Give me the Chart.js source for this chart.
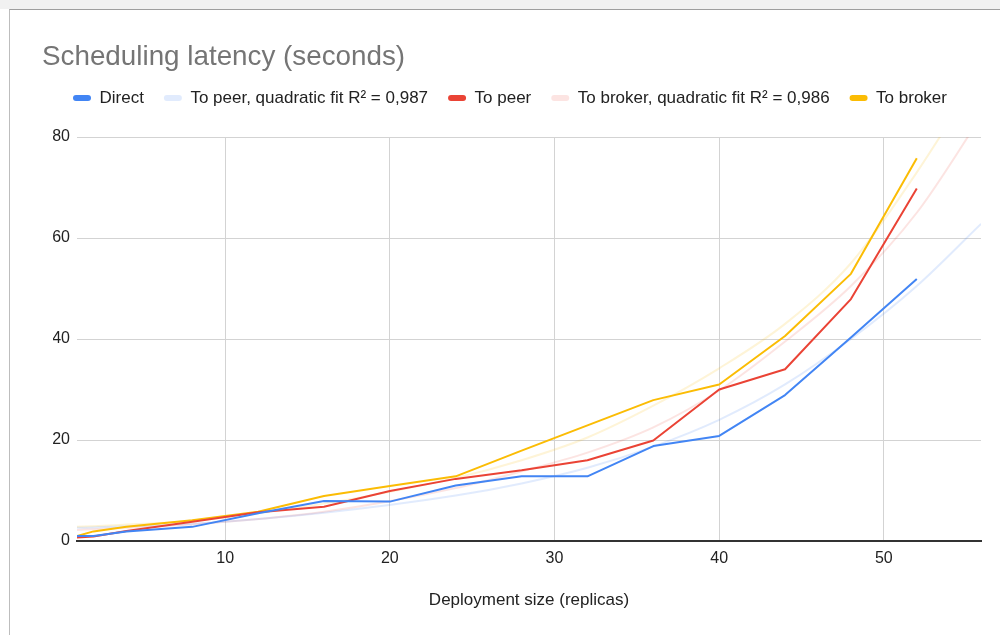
<!DOCTYPE html>
<html>
<head>
<meta charset="utf-8">
<script src="https://cdn.jsdelivr.net/npm/chart.js@4.4.1/dist/chart.umd.min.js"></script>
<style>
  html, body { margin: 0; padding: 0; background: #fff; }
  body { width: 1000px; height: 635px; position: relative; overflow: hidden; font-family: "Liberation Sans", Arial, sans-serif; }
  #strip { position: absolute; left: 0; top: 0; width: 1000px; height: 9px; background: #f1f1f1; }
  #frame { position: absolute; left: 9px; top: 9px; width: 991px; height: 626px; box-sizing: border-box;
           border-top: 1px solid #9e9e9e; border-left: 1px solid #bdbdbd; }
  #chart { position: absolute; left: 10px; top: 11px; }
  #title { position: absolute; left: 42px; top: 40px; line-height: 32px; font-size: 27.8px; color: #757575; }
</style>
</head>
<body>
<div id="strip"></div>
<div id="frame"></div>
<canvas id="chart" width="990" height="624"></canvas>
<div id="title">Scheduling latency (seconds)</div>
<script>
// Données
const replicas = [1, 2, 4, 8, 12, 16, 20, 24, 28, 32, 36, 40, 44, 48, 52];
const direct   = [1, 1, 1.9, 2.8, 5.5, 7.9, 7.8, 11, 12.8, 12.8, 18.8, 20.8, 28.9, 40.3, 51.9];
const toPeer   = [0.7, 0.9, 2, 3.8, 5.7, 6.8, 9.9, 12.3, 14, 16, 19.9, 30, 34, 47.9, 69.8];
const toBroker = [1, 1.9, 2.8, 4.1, 5.8, 8.9, 10.9, 12.8, 17.9, 22.9, 27.9, 31, 40.6, 52.9, 75.8];

// Courbes de tendance (relevées point par point)
const fitX      = [1, 8, 16, 24, 28, 32, 36, 40, 44, 48, 52, 55.9];
const directFit = [2.6, 3.4, 5.6, 9, 11.4, 14.5, 18.7, 24, 31, 40, 50.5, 62.8];
const peerFit   = [2.2, 3.3, 5.8, 10.5, 13.8, 17.5, 22.5, 29.8, 39.5, 50.5, 65, 84];
const brokerFit = [2.8, 4, 7.4, 12.5, 16, 20.5, 26.8, 34.2, 43, 55, 73, 93];

const xTicks = [10, 20, 30, 40, 50];
const yTicks = [0, 20, 40, 60, 80];

const toXY = (xs, ys) => xs.map((x, i) => ({ x: x, y: ys[i] }));

const BLUE = '#4285f4', RED = '#ea4335', YELLOW = '#fbbc04';

function serie(label, xs, ys, color) {
    return {
        label: label, data: toXY(xs, ys), showLine: true,
        borderColor: color, backgroundColor: color, borderWidth: 2,
        pointRadius: 0, pointHoverRadius: 0, borderJoinStyle: 'round', order: 0
    };
}
function tendance(label, ys, color, hide) {
    return {
        label: label, data: toXY(fitX, ys), showLine: true,
        borderColor: color, backgroundColor: color, borderWidth: 2,
        pointRadius: 0, pointHoverRadius: 0, cubicInterpolationMode: 'monotone',
        order: 1, hideInLegend: !!hide
    };
}

// espace supplémentaire sous la légende
const legendGap = {
    id: 'legendGap',
    beforeInit(chart) {
        const fit = chart.legend.fit;
        chart.legend.fit = function () { fit.call(this); this.height += 20.5; };
    }
};

Chart.defaults.font.family = '"Liberation Sans", Arial, sans-serif';

new Chart(document.getElementById('chart'), {
    type: 'scatter',
    data: {
        datasets: [
            serie('Direct', replicas, direct, BLUE),
            tendance('To peer, quadratic fit R² = 0,987', directFit, 'rgba(66, 133, 244, 0.16)'),
            serie('To peer', replicas, toPeer, RED),
            tendance('To broker, quadratic fit R² = 0,986', peerFit, 'rgba(234, 67, 53, 0.14)'),
            serie('To broker', replicas, toBroker, YELLOW),
            tendance('To broker fit', brokerFit, 'rgba(251, 188, 4, 0.16)', true)
        ]
    },
    plugins: [legendGap],
    options: {
        responsive: false,
        animation: false,
        devicePixelRatio: 1,
        layout: { padding: { left: 43, right: 19, top: 58.5, bottom: 0 } },
        plugins: {
            tooltip: { enabled: false },
            legend: {
                position: 'top',
                align: 'start',
                labels: {
                    boxWidth: 18, boxHeight: 6, padding: 20,
                    color: '#222', font: { size: 17 },
                    useBorderRadius: true, borderRadius: 3,
                    filter: (item, data) => !data.datasets[item.datasetIndex].hideInLegend,
                    sort: (a, b) => a.datasetIndex - b.datasetIndex,
                    generateLabels: chart => Chart.defaults.plugins.legend.labels.generateLabels(chart)
                        .map(l => { l.lineWidth = 0; l.fillStyle = l.strokeStyle; return l; })
                }
            }
        },
        scales: {
            x: {
                type: 'linear', min: 1, max: 55.9,
                afterBuildTicks: s => { s.ticks = xTicks.map(v => ({ value: v })); },
                afterFit: s => { s.height = 94; },
                grid: { color: '#d3d3d3', drawTicks: false },
                border: { display: true, color: '#333', width: 2 },
                ticks: { color: '#222', font: { size: 16 }, padding: 8 },
                title: { display: true, text: 'Deployment size (replicas)', color: '#222',
                         font: { size: 17 }, padding: { top: 0, bottom: 24 } }
            },
            y: {
                min: 0, max: 80,
                afterBuildTicks: s => { s.ticks = yTicks.map(v => ({ value: v })); },
                afterFit: s => { s.width = 24; },
                grid: { color: '#d3d3d3', drawTicks: false },
                border: { display: false },
                ticks: { color: '#222', font: { size: 16 }, padding: 7 }
            }
        }
    }
});
</script>
</body>
</html>
